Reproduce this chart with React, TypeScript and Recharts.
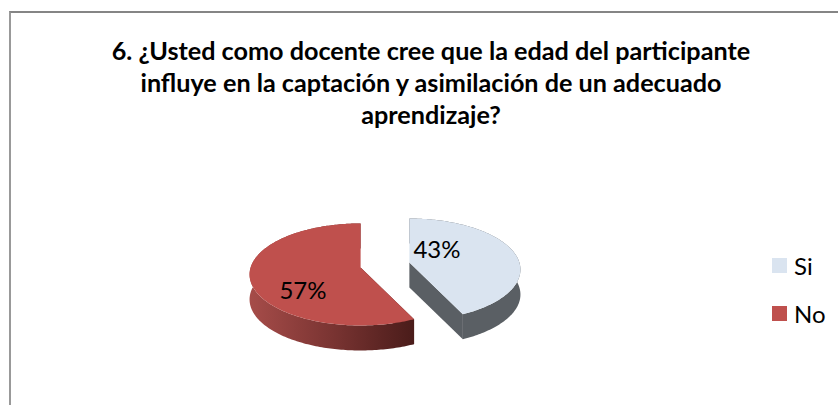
import { Pie, PieChart } from 'recharts';

const categories = ['Si', 'No'];
const percentages = [43, 57];
const sliceColors = ['#DAE4F0', '#BF504D'];
const titleLines = [
  '6. ¿Usted como docente cree que la edad del participante',
  'influye en la captación y asimilación de un adecuado',
  'aprendizaje?',
];

const WIDTH = 838;
const HEIGHT = 405;
const FONT = 'Lato, "Open Sans", sans-serif';

// fake 3D: tilt + a bit of perspective, wall hangs below the top face
const TILT = 0.455;
const PERSPECTIVE = 0.137;
const WALL = 25;
const EXPLODE = 25;

const labelShift: Record<string, [number, number]> = {
  Si: [52, -17],
  No: [-82, 24],
};

const chartData = categories.map((name, i) => ({
  name,
  value: percentages[i],
  fill: sliceColors[i],
}));

function project(radius: number, deg: number) {
  const a = (deg * Math.PI) / 180;
  const d = 1 + PERSPECTIVE * Math.cos(a);
  return [(radius * Math.sin(a)) / d, (-radius * TILT * Math.cos(a)) / d];
}

function toPath(points: number[][]) {
  return 'M' + points.map((p) => `${p[0].toFixed(2)},${p[1].toFixed(2)}`).join('L') + 'Z';
}

function Slice3D(props: any) {
  const { cx, cy, outerRadius, startAngle, endAngle, fill, name } = props;
  // recharts angles are counter-clockwise from 3 o'clock, here clockwise from 12
  const from = 90 - startAngle;
  const to = 90 - endAngle;
  const mid = (from + to) / 2;
  const midRad = (mid * Math.PI) / 180;
  const ox = cx + EXPLODE * Math.sin(midRad);
  const oy = cy - EXPLODE * TILT * Math.cos(midRad);

  const arc: number[][] = [];
  for (let a = from; a < to; a += 1) {
    const [x, y] = project(outerRadius, a);
    arc.push([ox + x, oy + y]);
  }
  const [ex, ey] = project(outerRadius, to);
  arc.push([ox + ex, oy + ey]);

  const down = (p: number[]) => [p[0], p[1] + WALL];
  const apex = [ox, oy];
  const first = arc[0];
  const last = arc[arc.length - 1];
  const isRed = name === 'No';
  const wallFill = isRed ? 'url(#redWall)' : '#5A5F64';
  const cutFill = isRed ? '#5A2220' : '#5A5F64';

  return (
    <g>
      {isRed && (
        <defs>
          <linearGradient id="redWall" x1="0" y1="0" x2="1" y2="0">
            <stop offset="0" stopColor="#A64C49" />
            <stop offset="0.5" stopColor="#7A3432" />
            <stop offset="1" stopColor="#4A1C1A" />
          </linearGradient>
        </defs>
      )}
      <path d={toPath([apex, first, down(first), down(apex)])} fill={cutFill} />
      <path d={toPath([apex, last, down(last), down(apex)])} fill={cutFill} />
      <path d={toPath([...arc, ...arc.map(down).reverse()])} fill={wallFill} />
      <path d={toPath([apex, ...arc])} fill={fill} />
    </g>
  );
}

function SliceLabel(props: any) {
  const { cx, cy, name, value } = props;
  const [dx, dy] = labelShift[name];
  return (
    <text
      x={cx + dx}
      y={cy + dy}
      textAnchor="middle"
      dominantBaseline="central"
      fontFamily={FONT}
      fontSize={24}
      fill="#000"
    >
      {value}%
    </text>
  );
}

export default function App() {
  return (
    <div style={{ position: 'absolute', left: 0, top: 0, width: WIDTH, height: HEIGHT, background: '#fff', overflow: 'hidden' }}>
      <div
        style={{
          position: 'absolute',
          left: 9,
          top: 11,
          right: 0,
          bottom: 0,
          borderLeft: '2px solid #999999',
          borderTop: '2px solid #858585',
        }}
      />
      <div
        style={{
          position: 'absolute',
          left: 0,
          top: 34,
          width: 862,
          textAlign: 'center',
          fontFamily: FONT,
          fontWeight: 700,
          fontSize: 25.2,
          lineHeight: '32px',
          color: '#000',
        }}
      >
        {titleLines.map((line) => (
          <div key={line}>{line}</div>
        ))}
      </div>
      <PieChart width={WIDTH} height={HEIGHT} style={{ position: 'absolute', left: 0, top: 0 }}>
        <Pie
          data={chartData}
          dataKey="value"
          nameKey="name"
          cx={380}
          cy={260}
          outerRadius={110}
          startAngle={90}
          endAngle={-270}
          stroke="none"
          shape={Slice3D}
          label={SliceLabel}
          labelLine={false}
          isAnimationActive={false}
        />
      </PieChart>
      {chartData.map((d, i) => (
        <div
          key={d.name}
          style={{
            position: 'absolute',
            left: 772,
            top: 250 + i * 48,
            display: 'flex',
            alignItems: 'center',
            height: 31,
            fontFamily: FONT,
            fontSize: 24,
            color: '#000',
          }}
        >
          <span style={{ width: 15, height: 15, background: d.fill, marginRight: 7 }} />
          {d.name}
        </div>
      ))}
    </div>
  );
}
